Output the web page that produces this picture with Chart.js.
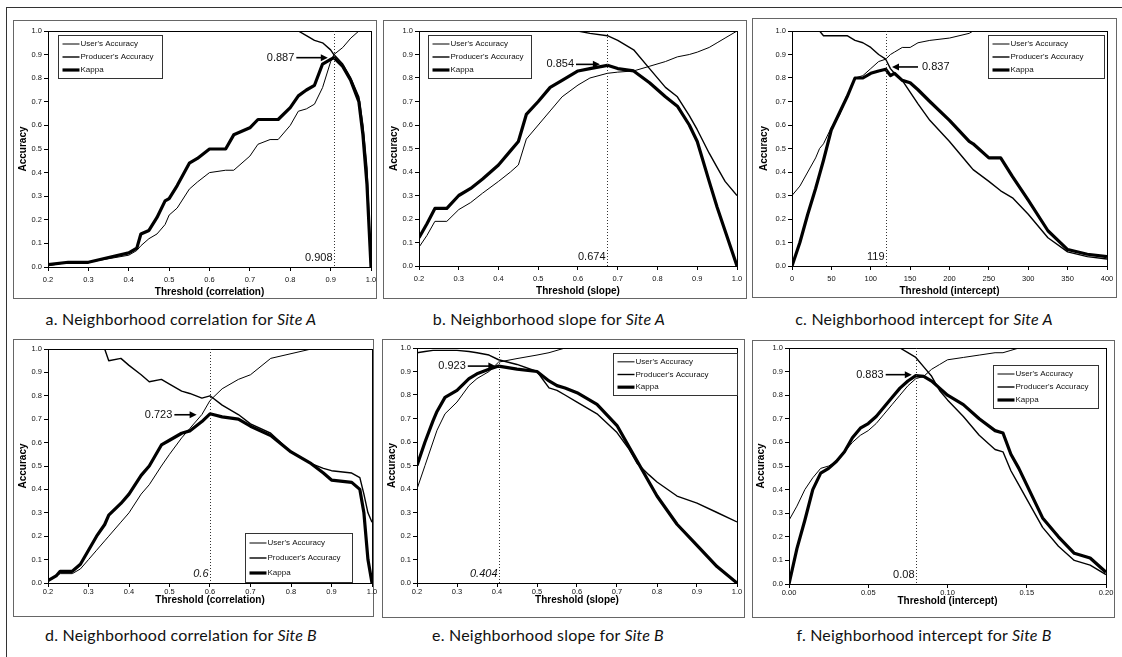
<!DOCTYPE html>
<html>
<head>
<meta charset="utf-8">
<title>Threshold accuracy curves</title>
<script src="https://cdn.jsdelivr.net/npm/chart.js@4.4.1/dist/chart.umd.min.js"></script>
<style>
  body { margin: 0; background: #fff; }
  #fig { position: relative; width: 1122px; height: 657px; overflow: hidden; background: #fff; }
  #frame { position: absolute; left: 6px; top: 7px; right: -2px; bottom: -2px; border-top: 1px solid #333; border-left: 1px solid #333; }
  .box { position: absolute; border: 1px solid #666; box-sizing: border-box; }
  .cap { position: absolute; width: 400px; text-align: center; font: 16px Lato, "Open Sans", sans-serif; letter-spacing: 0.2px; color: #111; line-height: 18px; white-space: nowrap; }
  canvas { position: absolute; }
</style>
</head>
<body>
<div id="fig"><div id="frame"></div></div>
<script>
// series labels
const legendLabels = ["User's Accuracy", "Producer's Accuracy", "Kappa"];

// best threshold and kappa at that threshold, per panel a..f
const bestThreshold = [0.908, 0.674, 119, 0.6, 0.404, 0.08];
const bestKappa = [0.887, 0.854, 0.837, 0.723, 0.923, 0.883];
const thresholdText = ['0.908', '0.674', '119', '0.6', '0.404', '0.08'];
const kappaText = ['0.887', '0.854', '0.837', '0.723', '0.923', '0.883'];

// a. correlation, Site A
const aX = [0.2, 0.25, 0.3, 0.35, 0.4, 0.42, 0.43, 0.45, 0.47, 0.49, 0.5, 0.52, 0.55, 0.57, 0.6, 0.64, 0.66, 0.7, 0.72, 0.75, 0.77, 0.8, 0.82, 0.84, 0.86, 0.88, 0.9, 0.908, 0.93, 0.95, 0.97, 0.98, 0.99, 1.0];
const aUser = [0.005, 0.02, 0.02, 0.035, 0.05, 0.07, 0.09, 0.12, 0.14, 0.18, 0.22, 0.25, 0.33, 0.36, 0.40, 0.41, 0.41, 0.47, 0.52, 0.54, 0.54, 0.6, 0.66, 0.67, 0.69, 0.76, 0.87, 0.90, 0.93, 0.97, 1.0, 1.0, 1.0, 1.0];
const aProd = [1, 1, 1, 1, 1, 1, 1, 1, 1, 1, 1, 1, 1, 1, 1, 1, 1, 1, 1, 1, 1, 1, 1, 0.98, 0.96, 0.95, 0.92, 0.90, 0.86, 0.80, 0.72, 0.60, 0.42, 0.0];
const aKappa = [0.01, 0.02, 0.02, 0.04, 0.06, 0.08, 0.14, 0.155, 0.21, 0.28, 0.29, 0.345, 0.44, 0.46, 0.5, 0.5, 0.56, 0.59, 0.625, 0.625, 0.625, 0.675, 0.725, 0.75, 0.77, 0.86, 0.88, 0.887, 0.85, 0.79, 0.70, 0.56, 0.35, 0.0];

// b. slope, Site A
const bX = [0.2, 0.22, 0.24, 0.27, 0.3, 0.33, 0.36, 0.4, 0.43, 0.45, 0.47, 0.5, 0.53, 0.56, 0.6, 0.63, 0.674, 0.7, 0.74, 0.78, 0.82, 0.85, 0.88, 0.9, 0.93, 0.95, 0.97, 1.0];
const bUser = [0.08, 0.13, 0.19, 0.19, 0.24, 0.27, 0.31, 0.36, 0.4, 0.43, 0.54, 0.6, 0.66, 0.72, 0.77, 0.8, 0.82, 0.825, 0.83, 0.85, 0.87, 0.89, 0.9, 0.91, 0.93, 0.95, 0.97, 1.0];
const bProd = [1, 1, 1, 1, 1, 1, 1, 1, 1, 1, 1, 1, 1, 1, 1, 0.99, 0.98, 0.96, 0.92, 0.84, 0.76, 0.72, 0.64, 0.58, 0.48, 0.42, 0.36, 0.30];
const bKappa = [0.12, 0.18, 0.245, 0.245, 0.3, 0.33, 0.37, 0.43, 0.49, 0.53, 0.645, 0.7, 0.76, 0.79, 0.83, 0.84, 0.854, 0.84, 0.83, 0.78, 0.72, 0.68, 0.6, 0.53, 0.36, 0.25, 0.15, 0.0];

// c. intercept, Site A
const cX = [0, 10, 20, 30, 35, 40, 50, 60, 70, 80, 90, 100, 110, 119, 125, 130, 140, 150, 160, 175, 200, 225, 230, 250, 265, 280, 300, 325, 350, 375, 400];
const cUser = [0.30, 0.34, 0.40, 0.46, 0.50, 0.52, 0.59, 0.64, 0.72, 0.8, 0.81, 0.84, 0.87, 0.88, 0.9, 0.91, 0.93, 0.93, 0.95, 0.96, 0.97, 0.99, 1.0, 1, 1, 1, 1, 1, 1, 1, 1];
const cProd = [1, 1, 1, 1, 1, 0.98, 0.98, 0.98, 0.98, 0.96, 0.95, 0.93, 0.9, 0.88, 0.84, 0.82, 0.79, 0.74, 0.69, 0.62, 0.53, 0.43, 0.41, 0.36, 0.32, 0.29, 0.22, 0.12, 0.06, 0.04, 0.03];
const cKappa = [0.0, 0.1, 0.22, 0.33, 0.39, 0.45, 0.58, 0.65, 0.72, 0.80, 0.80, 0.82, 0.83, 0.837, 0.81, 0.82, 0.79, 0.78, 0.75, 0.70, 0.62, 0.53, 0.52, 0.46, 0.46, 0.38, 0.28, 0.15, 0.07, 0.05, 0.04];

// d. correlation, Site B
const dX = [0.2, 0.22, 0.23, 0.26, 0.28, 0.3, 0.32, 0.34, 0.35, 0.38, 0.4, 0.43, 0.45, 0.48, 0.5, 0.53, 0.55, 0.58, 0.6, 0.63, 0.67, 0.7, 0.75, 0.8, 0.85, 0.88, 0.9, 0.95, 0.97, 0.98, 0.99, 1.0];
const dUser = [0.01, 0.03, 0.04, 0.04, 0.06, 0.1, 0.14, 0.18, 0.2, 0.26, 0.3, 0.38, 0.42, 0.5, 0.55, 0.62, 0.66, 0.72, 0.78, 0.83, 0.87, 0.89, 0.96, 0.98, 1.0, 1, 1, 1, 1, 1, 1, 1];
const dProd = [1, 1, 1, 1, 1, 1, 1, 1, 0.95, 0.96, 0.93, 0.89, 0.86, 0.87, 0.85, 0.82, 0.81, 0.79, 0.8, 0.76, 0.72, 0.68, 0.64, 0.56, 0.51, 0.49, 0.48, 0.47, 0.45, 0.38, 0.3, 0.26];
const dKappa = [0.01, 0.03, 0.05, 0.05, 0.08, 0.14, 0.2, 0.25, 0.29, 0.34, 0.38, 0.46, 0.5, 0.59, 0.61, 0.64, 0.65, 0.69, 0.723, 0.71, 0.70, 0.67, 0.63, 0.56, 0.51, 0.47, 0.44, 0.43, 0.40, 0.3, 0.1, 0.0];

// e. slope, Site B
const eX = [0.2, 0.22, 0.24, 0.25, 0.27, 0.3, 0.33, 0.35, 0.38, 0.404, 0.45, 0.5, 0.53, 0.55, 0.57, 0.6, 0.65, 0.7, 0.73, 0.75, 0.78, 0.8, 0.85, 0.9, 0.95, 1.0];
const eUser = [0.4, 0.5, 0.6, 0.65, 0.72, 0.77, 0.84, 0.87, 0.9, 0.94, 0.955, 0.97, 0.98, 0.99, 1.0, 1, 1, 1, 1, 1, 1, 1, 1, 1, 1, 1];
const eProd = [0.98, 0.985, 0.99, 0.99, 0.99, 0.99, 0.985, 0.98, 0.97, 0.95, 0.93, 0.9, 0.83, 0.82, 0.80, 0.77, 0.72, 0.64, 0.57, 0.51, 0.46, 0.43, 0.37, 0.34, 0.3, 0.26];
const eKappa = [0.5, 0.6, 0.69, 0.73, 0.79, 0.82, 0.87, 0.89, 0.91, 0.923, 0.91, 0.9, 0.86, 0.84, 0.83, 0.81, 0.76, 0.67, 0.58, 0.52, 0.43, 0.37, 0.25, 0.16, 0.07, 0.0];

// f. intercept, Site B
const fX = [0, 0.005, 0.01, 0.015, 0.02, 0.025, 0.03, 0.035, 0.04, 0.045, 0.05, 0.055, 0.06, 0.065, 0.07, 0.075, 0.08, 0.085, 0.09, 0.095, 0.1, 0.11, 0.12, 0.13, 0.135, 0.14, 0.145, 0.15, 0.16, 0.17, 0.18, 0.19, 0.2];
const fUser = [0.27, 0.33, 0.4, 0.45, 0.49, 0.5, 0.52, 0.56, 0.6, 0.63, 0.65, 0.68, 0.72, 0.76, 0.8, 0.84, 0.87, 0.88, 0.91, 0.93, 0.95, 0.96, 0.97, 0.98, 0.98, 0.99, 1.0, 1, 1, 1, 1, 1, 1];
const fProd = [1, 1, 1, 1, 1, 1, 1, 1, 1, 1, 1, 1, 1, 1, 1, 0.98, 0.96, 0.92, 0.88, 0.82, 0.78, 0.71, 0.63, 0.57, 0.56, 0.48, 0.42, 0.36, 0.24, 0.16, 0.1, 0.08, 0.04];
const fKappa = [0.0, 0.15, 0.27, 0.4, 0.47, 0.49, 0.52, 0.56, 0.62, 0.66, 0.68, 0.71, 0.75, 0.79, 0.83, 0.86, 0.883, 0.88, 0.86, 0.83, 0.80, 0.76, 0.70, 0.65, 0.64, 0.55, 0.49, 0.42, 0.28, 0.2, 0.13, 0.11, 0.05];

// layout of each sub-figure (page pixels for plot area, frame box and caption centre)
const panels = [
    { x: aX, user: aUser, prod: aProd, kappa: aKappa, title: 'Threshold (correlation)', min: 0.2, max: 1, step: 0.1, dec: 1,
      plot: [48, 31, 371, 267], box: [13, 20, 377, 299], yw: 31, row: 0, capX: 181, cap: 'a. Neighborhood correlation for ', site: 'Site A',
      arrow: [0.815, 0.893], ay: 0, lg: [0.031, 0.017, 104, 43], italic: false },
    { x: bX, user: bUser, prod: bProd, kappa: bKappa, title: 'Threshold (slope)', min: 0.2, max: 1, step: 0.1, dec: 1,
      plot: [419, 31, 737, 266], box: [383, 20, 747, 299], yw: 31, row: 0, capX: 549, cap: 'b. Neighborhood slope for ', site: 'Site A',
      arrow: [0.595, 0.655], ay: 0.004, lg: [0.028, 0.017, 103, 43], italic: false },
    { x: cX, user: cUser, prod: cProd, kappa: cKappa, title: 'Threshold (intercept)', min: 0, max: 400, step: 50, dec: 0,
      plot: [792, 31, 1107, 266], box: [752, 18, 1117, 298], yw: 34, row: 0, capX: 924, cap: 'c. Neighborhood intercept for ', site: 'Site A',
      arrow: [160, 127], ay: 0.01, lg: [0.622, 0.017, 116, 43], italic: false },
    { x: dX, user: dUser, prod: dProd, kappa: dKappa, title: 'Threshold (correlation)', min: 0.2, max: 1, step: 0.1, dec: 1,
      plot: [48, 349, 372, 583], box: [13, 339, 374, 617], yw: 31, row: 1, capX: 181, cap: 'd. Neighborhood correlation for ', site: 'Site B',
      arrow: [0.512, 0.567], ay: -0.004, lg: [0.608, 0.786, 107, 49], italic: true },
    { x: eX, user: eUser, prod: eProd, kappa: eKappa, title: 'Threshold (slope)', min: 0.2, max: 1, step: 0.1, dec: 1,
      plot: [417, 348, 737, 583], box: [382, 339, 745, 618], yw: 31, row: 1, capX: 548, cap: 'e. Neighborhood slope for ', site: 'Site B',
      arrow: [0.327, 0.396], ay: 0, lg: [0.6125, 0.021, 124, 42], italic: true },
    { x: fX, user: fUser, prod: fProd, kappa: fKappa, title: 'Threshold (intercept)', min: 0, max: 0.2, step: 0.05, dec: 2,
      plot: [789, 348, 1106, 584], box: [752, 340, 1115, 618], yw: 34, row: 1, capX: 924, cap: 'f. Neighborhood intercept for ', site: 'Site B',
      arrow: [0.061, 0.0775], ay: 0.004, lg: [0.643, 0.072, 105, 43], italic: false }
];

const FONT = '"Liberation Sans", Arial, sans-serif';
const PADT = 8, PADR = 12;
const fig = document.getElementById('fig');

Chart.defaults.font.family = FONT;
Chart.defaults.color = '#000';

function pts(xs, ys) {
    return xs.map((x, k) => ({ x: x, y: ys[k] }));
}

function drawArrow(ctx, x1, y, x2) {
    const dir = Math.sign(x2 - x1);
    ctx.beginPath();
    ctx.moveTo(x1, y);
    ctx.lineTo(x2 - dir * 6, y);
    ctx.lineWidth = 1.6;
    ctx.stroke();
    ctx.beginPath();
    ctx.moveTo(x2, y);
    ctx.lineTo(x2 - dir * 7, y - 3.5);
    ctx.lineTo(x2 - dir * 7, y + 3.5);
    ctx.closePath();
    ctx.fill();
}

function overlayFor(i) {
    const p = panels[i];
    return {
        id: 'overlay' + i,
        afterDraw(chart) {
            const ctx = chart.ctx;
            const ca = chart.chartArea;
            const xs = chart.scales.x, ys = chart.scales.y;
            ctx.save();

            // plot area frame
            ctx.strokeStyle = '#000';
            ctx.lineWidth = 1;
            ctx.setLineDash([]);
            ctx.strokeRect(ca.left + 0.5, ca.top + 0.5, ca.right - ca.left, ca.bottom - ca.top);

            // dotted line at the best threshold
            const mx = Math.round(xs.getPixelForValue(bestThreshold[i])) + 0.5;
            ctx.setLineDash([1, 2]);
            ctx.strokeStyle = '#333';
            ctx.beginPath();
            ctx.moveTo(mx, ca.top);
            ctx.lineTo(mx, ca.bottom);
            ctx.stroke();
            ctx.setLineDash([]);

            // threshold value near the bottom
            ctx.fillStyle = '#111';
            ctx.font = (p.italic ? 'italic ' : '') + '11px ' + FONT;
            ctx.textAlign = 'right';
            ctx.textBaseline = 'middle';
            ctx.fillText(thresholdText[i], mx - 2, ys.getPixelForValue(0.04));

            // kappa value with arrow
            const ay = ys.getPixelForValue(bestKappa[i] + p.ay);
            const x1 = xs.getPixelForValue(p.arrow[0]);
            const x2 = xs.getPixelForValue(p.arrow[1]);
            ctx.strokeStyle = '#000';
            ctx.fillStyle = '#000';
            drawArrow(ctx, x1, ay, x2);
            ctx.fillStyle = '#111';
            ctx.font = '11px ' + FONT;
            if (x2 < x1) {
                ctx.textAlign = 'left';
                ctx.fillText(kappaText[i], x1 + 4, ay);
            } else {
                ctx.textAlign = 'right';
                ctx.fillText(kappaText[i], x1 - 2, ay);
            }

            // legend box
            const lx = Math.round(ca.left + p.lg[0] * (ca.right - ca.left)) + 0.5;
            const ly = Math.round(ca.top + p.lg[1] * (ca.bottom - ca.top)) + 0.5;
            const lw = p.lg[2], lh = p.lg[3];
            ctx.fillStyle = '#fff';
            ctx.fillRect(lx, ly, lw, lh);
            ctx.strokeStyle = '#333';
            ctx.lineWidth = 1;
            ctx.strokeRect(lx, ly, lw, lh);
            const rowH = (lh - 4) / 3;
            ctx.font = '8px ' + FONT;
            ctx.textAlign = 'left';
            chart.data.datasets.forEach((ds, k) => {
                const yy = ly + 2 + rowH * (k + 0.5);
                ctx.beginPath();
                ctx.moveTo(lx + 4, yy);
                ctx.lineTo(lx + 21, yy);
                ctx.lineWidth = ds.borderWidth;
                ctx.strokeStyle = ds.borderColor;
                ctx.stroke();
                ctx.fillStyle = '#111';
                ctx.fillText(ds.label, lx + 22, yy);
            });
            ctx.restore();
        }
    };
}

panels.forEach((p, i) => {
    // frame around the sub-figure
    const box = document.createElement('div');
    box.className = 'box';
    box.style.left = p.box[0] + 'px';
    box.style.top = p.box[1] + 'px';
    box.style.width = (p.box[2] - p.box[0]) + 'px';
    box.style.height = (p.box[3] - p.box[1]) + 'px';
    fig.appendChild(box);

    // caption
    const cap = document.createElement('div');
    cap.className = 'cap';
    cap.style.left = (p.capX - 200) + 'px';
    cap.style.top = (p.row ? 626 : 310) + 'px';
    cap.appendChild(document.createTextNode(p.cap));
    const site = document.createElement('i');
    site.textContent = p.site;
    cap.appendChild(site);
    fig.appendChild(cap);

    // canvas sized so that the chart area lands on the plot rectangle
    const xh = p.row ? 23 : 31;
    const w = p.yw + (p.plot[2] - p.plot[0]) + PADR;
    const h = PADT + (p.plot[3] - p.plot[1]) + xh;
    const canvas = document.createElement('canvas');
    canvas.width = w;
    canvas.height = h;
    canvas.style.left = (p.plot[0] - p.yw) + 'px';
    canvas.style.top = (p.plot[1] - PADT) + 'px';
    canvas.style.width = w + 'px';
    canvas.style.height = h + 'px';
    fig.appendChild(canvas);

    new Chart(canvas, {
        type: 'line',
        data: {
            datasets: [
                { label: legendLabels[0], data: pts(p.x, p.user), borderColor: '#000', borderWidth: 1 },
                { label: legendLabels[1], data: pts(p.x, p.prod), borderColor: '#000', borderWidth: 1.4 },
                { label: legendLabels[2], data: pts(p.x, p.kappa), borderColor: '#000', borderWidth: 3.2 }
            ]
        },
        options: {
            responsive: false,
            animation: false,
            devicePixelRatio: 1,
            layout: { padding: { top: PADT, right: PADR, left: 0, bottom: 0 } },
            elements: {
                point: { radius: 0 },
                line: { tension: 0, borderJoinStyle: 'round', fill: false }
            },
            plugins: {
                legend: { display: false },
                tooltip: { enabled: false }
            },
            scales: {
                x: {
                    type: 'linear',
                    min: p.min,
                    max: p.max,
                    afterFit: function (scale) { scale.height = xh; },
                    ticks: {
                        stepSize: p.step,
                        autoSkip: false,
                        maxRotation: 0,
                        padding: p.row ? 0.5 : 4.5,
                        font: { size: 7.5 },
                        color: '#111',
                        callback: v => Number(v).toFixed(p.dec)
                    },
                    grid: { drawOnChartArea: false, tickLength: 4, color: '#000' },
                    border: { color: '#000' },
                    title: { display: true, text: p.title, padding: 0, color: '#000', font: { size: 10, weight: 'bold' } }
                },
                y: {
                    min: 0,
                    max: 1,
                    afterFit: function (scale) { scale.width = p.yw; },
                    ticks: {
                        stepSize: 0.1,
                        padding: 2,
                        font: { size: 7.5 },
                        color: '#111',
                        callback: v => Number(v).toFixed(1)
                    },
                    grid: { drawOnChartArea: false, tickLength: 4, color: '#000' },
                    border: { color: '#000' },
                    title: { display: true, text: 'Accuracy', padding: 0, color: '#000', font: { size: 10, weight: 'bold' } }
                }
            }
        },
        plugins: [overlayFor(i)]
    });
});
</script>
</body>
</html>
